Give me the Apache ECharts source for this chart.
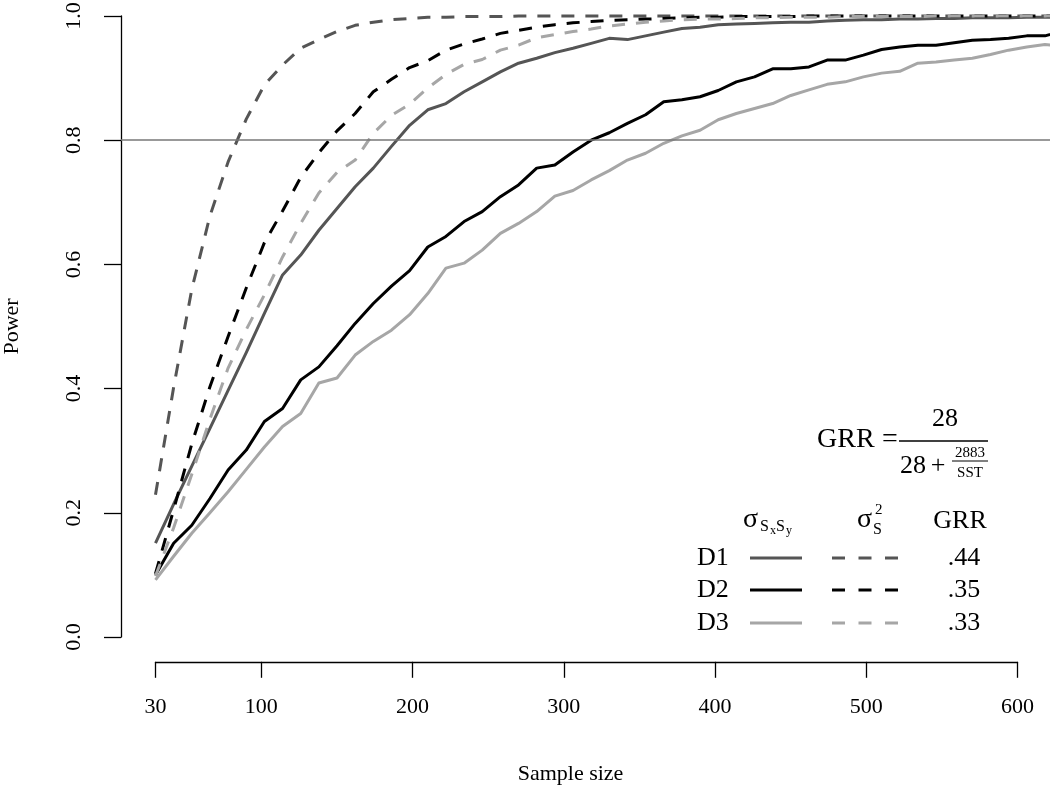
<!DOCTYPE html>
<html><head><meta charset="utf-8">
<script src="https://cdn.jsdelivr.net/npm/echarts@6/dist/echarts.min.js"></script>
<style>html,body{margin:0;padding:0;background:#fff}#c{width:1050px;height:790px}</style>
</head><body><div id="c"></div>
<script>
// ---- data ----
const sampleSizes = [30,42,54,66,78,90,102,114,126,138,150,162,174,186,198,210,222,234,246,258,270,282,294,306,318,330,342,354,366,378,390,402,414,426,438,450,462,474,486,498,510,522,534,546,558,570,582,594,606,618,630];
const d1Solid  = [0.151,0.214,0.275,0.336,0.397,0.458,0.521,0.583,0.615,0.655,0.690,0.725,0.755,0.790,0.824,0.849,0.859,0.878,0.894,0.910,0.924,0.932,0.941,0.948,0.956,0.964,0.962,0.968,0.974,0.980,0.982,0.986,0.987,0.988,0.989,0.990,0.990,0.992,0.993,0.994,0.994,0.995,0.995,0.996,0.996,0.997,0.997,0.997,0.998,0.998,0.998];
const d1Dashed = [0.229,0.402,0.560,0.678,0.765,0.834,0.889,0.921,0.948,0.962,0.975,0.985,0.990,0.994,0.996,0.998,0.998,0.999,0.999,0.999,1,1,1,1,1,1,1,1,1,1,1,1,1,1,1,1,1,1,1,1,1,1,1,1,1,1,1,1,1,1,1];
const d2Solid  = [0.100,0.151,0.180,0.223,0.269,0.301,0.347,0.368,0.414,0.435,0.469,0.505,0.537,0.565,0.590,0.628,0.645,0.669,0.685,0.709,0.728,0.755,0.760,0.781,0.800,0.812,0.827,0.841,0.862,0.865,0.870,0.880,0.894,0.902,0.915,0.915,0.918,0.929,0.929,0.937,0.946,0.950,0.953,0.953,0.957,0.961,0.962,0.964,0.968,0.968,0.976];
const d2Dashed = [0.102,0.205,0.311,0.403,0.484,0.562,0.635,0.686,0.740,0.780,0.815,0.843,0.878,0.898,0.917,0.928,0.945,0.955,0.963,0.972,0.977,0.982,0.986,0.989,0.991,0.993,0.994,0.995,0.996,0.997,0.998,0.998,0.999,0.999,0.999,0.999,1,1,1,1,1,1,1,1,1,1,1,1,1,1,1];
const d3Solid  = [0.092,0.130,0.167,0.200,0.234,0.270,0.306,0.339,0.360,0.409,0.417,0.454,0.476,0.494,0.519,0.553,0.594,0.602,0.623,0.650,0.666,0.685,0.710,0.719,0.736,0.751,0.768,0.779,0.795,0.807,0.816,0.833,0.843,0.851,0.859,0.872,0.881,0.890,0.894,0.902,0.908,0.911,0.924,0.926,0.929,0.932,0.938,0.945,0.950,0.954,0.952];
const d3Dashed = [0.098,0.176,0.262,0.351,0.433,0.495,0.551,0.612,0.666,0.715,0.748,0.768,0.811,0.840,0.858,0.884,0.906,0.922,0.930,0.945,0.953,0.965,0.970,0.975,0.979,0.984,0.987,0.990,0.992,0.994,0.995,0.995,0.996,0.997,0.997,0.998,0.998,0.998,0.999,0.999,0.999,0.999,0.999,1,1,1,1,1,1,1,1];
const xTicks = [30,100,200,300,400,500,600];
const yTicks = [0,0.2,0.4,0.6,0.8,1.0];
const powerTarget = 0.8;
const designs = ['D1','D2','D3'];
const grrValues = ['.44','.35','.33'];
const xTitle = 'Sample size';
const yTitle = 'Power';

// ---- styling ----
const FONT = '"Liberation Serif", "Times New Roman", serif';
const COLORS = ['#555555', '#000000', '#a6a6a6'];
const LW = 3;
const DASH = [13, 11];

function line(name, vals, color, dashed, z) {
  return {
    type: 'line', name, xAxisIndex: 0, yAxisIndex: 0,
    data: sampleSizes.map((x, i) => [x, vals[i]]),
    symbol: 'none', clip: false, animation: false, z,
    lineStyle: { color, width: LW, type: dashed ? DASH : 'solid', cap: 'butt', join: 'round' }
  };
}

const series = [
  line('D1 σSxSy', d1Solid, COLORS[0], false, 3),
  line('D2 σSxSy', d2Solid, COLORS[1], false, 3),
  line('D3 σSxSy', d3Solid, COLORS[2], false, 3),
  line('D1 σS2', d1Dashed, COLORS[0], true, 4),
  line('D2 σS2', d2Dashed, COLORS[1], true, 4),
  line('D3 σS2', d3Dashed, COLORS[2], true, 4)
];
series[0].markLine = {
  silent: true, symbol: 'none', animation: false, label: { show: false },
  lineStyle: { color: '#777777', width: 1.5, type: 'solid' },
  data: [{ yAxis: powerTarget }]
};

// ---- annotation (formula + legend table) ----
const txt = (text, x, y, size, align) => ({
  type: 'text', x, y, silent: true,
  style: { text, fill: '#000', font: size + 'px ' + FONT, textAlign: align || 'left', textVerticalAlign: 'middle' }
});
const graphics = [
  txt('GRR', 817, 440, 28, 'left'),
  txt('=', 890, 440, 28, 'center'),
  txt('28', 945, 419, 26, 'center'),
  { type: 'line', silent: true, shape: { x1: 899, y1: 441, x2: 988, y2: 441 }, style: { stroke: '#000', lineWidth: 1.5 } },
  txt('28', 913, 466, 26, 'center'),
  txt('+', 938, 466, 26, 'center'),
  txt('2883', 970, 453, 15, 'center'),
  { type: 'line', silent: true, shape: { x1: 952, y1: 461, x2: 988, y2: 461 }, style: { stroke: '#000', lineWidth: 1 } },
  txt('SST', 970, 473, 15, 'center'),
  // header
  txt('σ', 743, 520, 28, 'left'),
  txt('S', 760, 527, 16, 'left'),
  txt('x', 770, 531, 12, 'left'),
  txt('S', 776, 527, 16, 'left'),
  txt('y', 786, 531, 12, 'left'),
  txt('σ', 857, 520, 28, 'left'),
  txt('2', 875, 510, 15, 'left'),
  txt('S', 873, 530, 16, 'left'),
  txt('GRR', 960, 521, 26, 'center')
];
const rowY = [558, 590, 623];
designs.forEach((d, i) => {
  graphics.push(txt(d, 697, rowY[i], 26, 'left'));
  graphics.push({ type: 'line', silent: true, shape: { x1: 750, y1: rowY[i], x2: 802, y2: rowY[i] }, style: { stroke: COLORS[i], lineWidth: LW } });
  graphics.push({ type: 'line', silent: true, shape: { x1: 832, y1: rowY[i], x2: 898, y2: rowY[i] }, style: { stroke: COLORS[i], lineWidth: LW, lineDash: [13, 13.5] } });
  graphics.push(txt(grrValues[i], 964, rowY[i], 26, 'center'));
});

const chart = echarts.init(document.getElementById('c'), null, { renderer: 'canvas' });
chart.setOption({
  backgroundColor: '#ffffff',
  animation: false,
  grid: [
    { left: 121, width: 931.2, top: 16, height: 621, outerBoundsMode: 'none', containLabel: false },
    { left: 155.5, width: 862, top: 600, height: 61.8, outerBoundsMode: 'none', containLabel: false }
  ],
  xAxis: [
    { gridIndex: 0, type: 'value', min: 7.2, max: 622.8, show: false },
    { gridIndex: 1, type: 'value', min: 30, max: 600,
      name: xTitle, nameLocation: 'middle', nameGap: 101,
      nameTextStyle: { fontFamily: FONT, fontSize: 22, color: '#000', padding: [0, 32, 0, 0] },
      axisLine: { show: true, lineStyle: { color: '#000', width: 1.3 } },
      axisTick: { show: true, length: 16, customValues: xTicks, lineStyle: { color: '#000', width: 1.3 } },
      axisLabel: { customValues: xTicks, margin: 34, fontFamily: FONT, fontSize: 22, color: '#000' },
      splitLine: { show: false } }
  ],
  yAxis: [
    { gridIndex: 0, type: 'value', min: 0, max: 1, interval: 0.2,
      name: yTitle, nameLocation: 'middle', nameGap: 98, nameRotate: 90,
      nameTextStyle: { fontFamily: FONT, fontSize: 22, color: '#000' },
      axisLine: { show: true, lineStyle: { color: '#000', width: 1.3 } },
      axisTick: { show: true, length: 17, lineStyle: { color: '#000', width: 1.3 } },
      axisLabel: { rotate: 90, margin: 36, fontFamily: FONT, fontSize: 22, color: '#000', formatter: v => v.toFixed(1) },
      splitLine: { show: false } },
    { gridIndex: 1, type: 'value', show: false }
  ],
  series,
  graphic: graphics
});
</script>
</body></html>
